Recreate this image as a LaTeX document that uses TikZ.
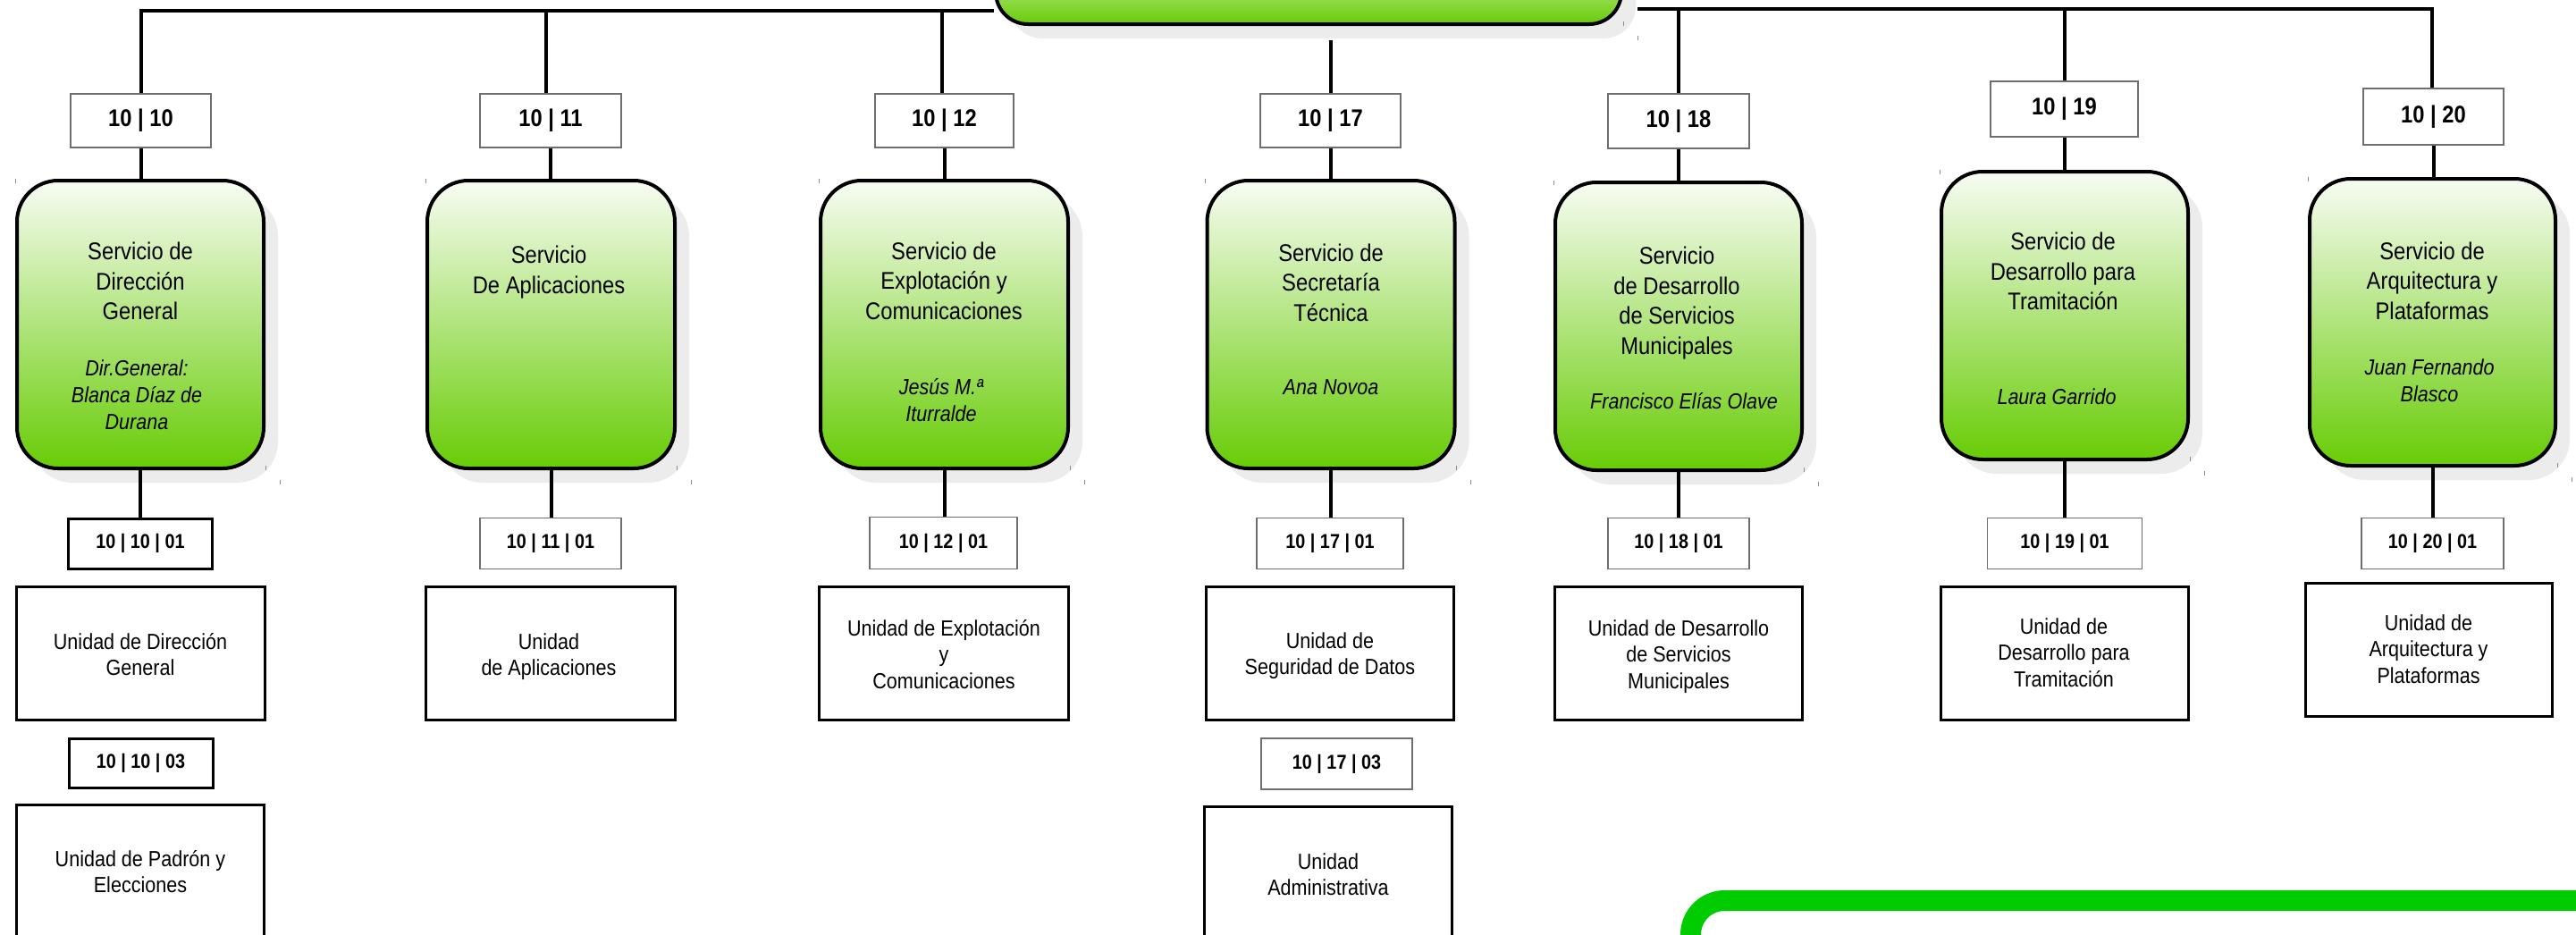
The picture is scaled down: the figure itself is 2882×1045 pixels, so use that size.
\documentclass[tikz,border=0pt]{standalone}
\usepackage{fontspec}
\setmainfont{Liberation Sans}[FakeStretch=0.88]
\usetikzlibrary{shadows}
\definecolor{svctop}{RGB}{248,252,243}
\definecolor{svcbot}{RGB}{104,204,6}
\definecolor{shadowgray}{RGB}{236,236,236}
\definecolor{codegray}{RGB}{110,110,110}
\definecolor{brightgreen}{RGB}{0,204,0}
\newcommand\mlines[1]{\vtop{\halign{\hfil##\hfil\cr#1\crcr}}}
\tikzset{
  x=1pt, y=-1pt,
  svc/.style={draw=black, line width=4pt, rounded corners=46pt,
    top color=svctop, bottom color=svcbot, inner sep=0pt,
    drop shadow={shadow xshift=16pt, shadow yshift=-16pt, fill=shadowgray, opacity=1}},
  codebox/.style={draw=codegray, line width=1.5pt, fill=white, inner sep=0pt,
    font=\bfseries\fontsize{27}{30}\selectfont},
  subcode/.style={draw=codegray, line width=1.8pt, fill=white, inner sep=0pt,
    font=\bfseries\fontsize{22.5}{26}\selectfont},
  subcodeB/.style={subcode, draw=black, line width=3pt},
  unitbox/.style={draw=black, line width=3pt, fill=white, inner sep=0pt},
  svctext/.style={inner sep=0pt, anchor=base, font=\fontsize{27}{33.5}\selectfont},
  nametext/.style={inner sep=0pt, anchor=base, font=\fontsize{24.5}{30}\selectfont\itshape},
  unittext/.style={inner sep=0pt, anchor=base, font=\fontsize{24.5}{29.5}\selectfont},
  conn/.style={draw=black, line width=4pt},
  tick/.style={draw=black!45, line width=1pt},
}
\begin{document}
\begin{tikzpicture}
\useasboundingbox (0,0) rectangle (2882,1045);
\clip (0,0) rectangle (2882,1045);
\fill[white] (0,0) rectangle (2882,1045);

% root box (cut by the top edge)
\node[svc, rounded corners=36pt, minimum width=700pt, minimum height=100pt] (root) at (1464,-23) {};

% service boxes
\node[svc, minimum width=276pt, minimum height=322pt] (s10) at (157,363) {};
\node[svc, minimum width=277pt, minimum height=322pt] (s11) at (616.5,363) {};
\node[svc, minimum width=277pt, minimum height=322pt] (s12) at (1056.5,363) {};
\node[svc, minimum width=277pt, minimum height=322pt] (s17) at (1489,363) {};
\node[svc, minimum width=276pt, minimum height=322pt] (s18) at (1878,365) {};
\node[svc, minimum width=276pt, minimum height=322pt] (s19) at (2310,353) {};
\node[svc, minimum width=275pt, minimum height=321pt] (s20) at (2721.5,360.5) {};

% small corner marks
\foreach \n in {s10,s11,s12,s17,s18,s19,s20}{
  \draw[tick] (\n.north west) -- ++(0,5);
  \draw[tick] (\n.south east) -- ++(0,-5);
  \draw[tick] ([shift={(16,16)}]\n.south east) -- ++(0,-5);
}
\draw[tick] ([shift={(16,16)}]root.south east) -- ++(0,-5);
\draw[tick] (root.south east) -- ++(0,-5);

% service texts
\node[svctext] (s10a) at (157,290.7) {\mlines{Servicio de\cr Dirección\cr General}};
\node[nametext] (s10b) at (153,420) {\mlines{Dir.General:\cr Blanca Díaz de\cr Durana}};
\node[svctext] (s11a) at (614,294.5) {\mlines{Servicio\cr De Aplicaciones}};
\node[svctext] (s12a) at (1056,290) {\mlines{Servicio de\cr Explotación y\cr Comunicaciones}};
\node[nametext] (s12b) at (1053,441) {\mlines{Jesús M.ª\cr Iturralde}};
\node[svctext] (s17a) at (1489,292) {\mlines{Servicio de\cr Secretaría\cr Técnica}};
\node[nametext] (s17b) at (1489,441) {Ana Novoa};
\node[svctext] (s18a) at (1876,295.6) {\mlines{Servicio\cr de Desarrollo\cr de Servicios\cr Municipales}};
\node[nametext] (s18b) at (1884,457.7) {Francisco Elías Olave};
\node[svctext] (s19a) at (2308,279.5) {\mlines{Servicio de\cr Desarrollo para\cr Tramitación}};
\node[nametext] (s19b) at (2301,452.7) {Laura Garrido};
\node[svctext] (s20a) at (2721,290) {\mlines{Servicio de\cr Arquitectura y\cr Plataformas}};
\node[nametext] (s20b) at (2718,419.5) {\mlines{Juan Fernando\cr Blasco}};

% code boxes
\node[codebox, minimum width=157pt, minimum height=60pt] (c10) at (157.5,135) {10 | 10};
\node[codebox, minimum width=158pt, minimum height=60pt] (c11) at (616,135) {10 | 11};
\node[codebox, minimum width=155pt, minimum height=60pt] (c12) at (1056.5,135) {10 | 12};
\node[codebox, minimum width=157pt, minimum height=60pt] (c17) at (1488.5,135) {10 | 17};
\node[codebox, minimum width=158pt, minimum height=61pt] (c18) at (1878,135.5) {10 | 18};
\node[codebox, minimum width=165pt, minimum height=62pt] (c19) at (2309.5,122) {10 | 19};
\node[codebox, minimum width=157pt, minimum height=63pt] (c20) at (2722.5,130.5) {10 | 20};

% sub code boxes
\node[subcodeB, minimum width=161pt, minimum height=56pt] (d10) at (157,608) {10 | 10 | 01};
\node[subcode, minimum width=158pt, minimum height=57pt] (d11) at (616,608) {10 | 11 | 01};
\node[subcode, minimum width=165pt, minimum height=58pt] (d12) at (1055.5,607.5) {10 | 12 | 01};
\node[subcode, minimum width=164pt, minimum height=57pt] (d17) at (1488,608) {10 | 17 | 01};
\node[subcode, minimum width=158pt, minimum height=57pt] (d18) at (1878,608) {10 | 18 | 01};
\node[subcode, minimum width=173pt, minimum height=57pt] (d19) at (2310,608) {10 | 19 | 01};
\node[subcode, minimum width=159pt, minimum height=57pt] (d20) at (2721.5,608) {10 | 20 | 01};
\node[subcodeB, minimum width=161pt, minimum height=55pt] (d10b) at (157.5,853.5) {10 | 10 | 03};
\node[subcode, minimum width=169pt, minimum height=57pt] (d17b) at (1495.5,854.5) {10 | 17 | 03};

% unit boxes
\node[unitbox, minimum width=278pt, minimum height=149pt] (u10) at (157.5,731) {};
\node[unitbox, minimum width=279pt, minimum height=149pt] (u11) at (616,731) {};
\node[unitbox, minimum width=279pt, minimum height=149pt] (u12) at (1056,731) {};
\node[unitbox, minimum width=277pt, minimum height=149pt] (u17) at (1488,731) {};
\node[unitbox, minimum width=277pt, minimum height=149pt] (u18) at (1878,731) {};
\node[unitbox, minimum width=277pt, minimum height=149pt] (u19) at (2310,731) {};
\node[unitbox, minimum width=276pt, minimum height=149pt] (u20) at (2717.5,727) {};
\node[unitbox, minimum width=277pt, minimum height=230pt] (u10b) at (157,1015) {};
\node[unitbox, minimum width=277pt, minimum height=230pt] (u17b) at (1486,1017) {};

% unit texts
\node[unittext] (u10t) at (157,726) {\mlines{Unidad de Dirección\cr General}};
\node[unittext] (u11t) at (614,726) {\mlines{Unidad\cr de Aplicaciones}};
\node[unittext] (u12t) at (1056,711) {\mlines{Unidad de Explotación\cr y\cr Comunicaciones}};
\node[unittext] (u17t) at (1488,725) {\mlines{Unidad de\cr Seguridad de Datos}};
\node[unittext] (u18t) at (1878,711) {\mlines{Unidad de Desarrollo\cr de Servicios\cr Municipales}};
\node[unittext] (u19t) at (2309,709) {\mlines{Unidad de\cr Desarrollo para\cr Tramitación}};
\node[unittext] (u20t) at (2717,705) {\mlines{Unidad de\cr Arquitectura y\cr Plataformas}};
\node[unittext] (u10bt) at (157,969) {\mlines{Unidad de Padrón y\cr Elecciones}};
\node[unittext] (u17bt) at (1486,972) {\mlines{Unidad\cr Administrativa}};

% connector coordinates
\coordinate (tl) at (158,12);
\coordinate (rl) at (1112,12);
\coordinate (rr) at (1832,10);
\coordinate (tr) at (2721,10);
\coordinate (t11) at (611,12);
\coordinate (t12) at (1054,12);
\coordinate (t17) at (1489,45);
\coordinate (t18) at (1878,10);
\coordinate (t19) at (2310,10);

% connectors
\draw[conn] (rl) -- (tl) -- (tl |- c10.north);
\draw[conn] (rr) -- (tr) -- (tr |- c20.north);
\draw[conn] (t11) -- (t11 |- c11.north);
\draw[conn] (t12) -- (t12 |- c12.north);
\draw[conn] (t17) -- (t17 |- c17.north);
\draw[conn] (t18) -- (t18 |- c18.north);
\draw[conn] (t19) -- (t19 |- c19.north);
\foreach \k in {10,11,12,17,18,19,20}{
  \draw[conn] (c\k.south) -- (c\k.south |- s\k.north);
  \draw[conn] (s\k.south) -- (s\k.south |- d\k.north);
}

% green frame at the bottom right
\draw[brightgreen, line width=23pt, rounded corners=38pt] (1891.5,1120) -- (1891.5,1007.5) -- (2960,1007.5);
\end{tikzpicture}
\end{document}
